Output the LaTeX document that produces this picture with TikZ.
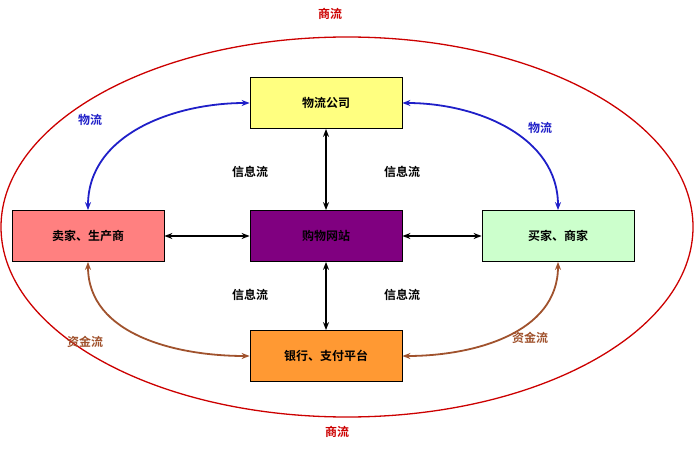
\documentclass[tikz,border=0pt]{standalone}
\usepackage{fontspec}
\setmainfont[BoldFont={Noto Sans CJK SC Bold}]{Noto Sans CJK SC}
\usetikzlibrary{arrows.meta}
\definecolor{yel}{HTML}{FFFF80}
\definecolor{pnk}{HTML}{FF8080}
\definecolor{pur}{HTML}{800080}
\definecolor{grn}{HTML}{CCFFCC}
\definecolor{org}{HTML}{FF9933}
\definecolor{brn}{HTML}{A0522D}
\definecolor{blu}{HTML}{1F1FC8}
\begin{document}
\begin{tikzpicture}[x=1pt,y=-1pt,
 box/.style={draw=black,line width=0.8pt,minimum width=152pt,minimum height=51pt,font=\bfseries\fontsize{12}{14}\selectfont},
 lbl/.style={font=\bfseries\fontsize{12}{14}\selectfont},
 arr/.style={line width=1.8pt,{Stealth[length=8pt]}-{Stealth[length=8pt]}}]
\useasboundingbox (0,0) rectangle (700,470);
\draw[red!80!black,line width=1.3pt] (347,227) ellipse [x radius=346, y radius=190];
\node[box,fill=yel] (wl) at (326,103) {物流公司};
\node[box,fill=pnk] (mj) at (88,236) {卖家、生产商};
\node[box,fill=pur] (gw) at (326,236) {购物网站};
\node[box,fill=grn] (bj) at (558,236) {买家、商家};
\node[box,fill=org] (yh) at (326,356) {银行、支付平台};
\draw[arr] (mj) -- (gw);
\draw[arr] (gw) -- (bj);
\draw[arr] (wl) -- (gw);
\draw[arr] (gw) -- (yh);
\draw[arr,blu] (wl.west) to[out=180,in=90] (mj.north);
\draw[arr,blu] (wl.east) to[out=0,in=90] (bj.north);
\draw[arr,brn] (mj.south) to[out=-90,in=180] (yh.west);
\draw[arr,brn] (bj.south) to[out=-90,in=0] (yh.east);
\node[lbl,red!80!black] (s1) at (330,14) {商流};
\node[lbl,red!80!black] (s2) at (337,432) {商流};
\node[lbl,blu] (w1) at (90,120) {物流};
\node[lbl,blu] (w2) at (540,128) {物流};
\node[lbl] (x1) at (250,172) {信息流};
\node[lbl] (x2) at (402,172) {信息流};
\node[lbl] (x3) at (250,295) {信息流};
\node[lbl] (x4) at (402,295) {信息流};
\node[lbl,brn] (z1) at (85,342) {资金流};
\node[lbl,brn] (z2) at (530,338) {资金流};
\end{tikzpicture}
\end{document}
